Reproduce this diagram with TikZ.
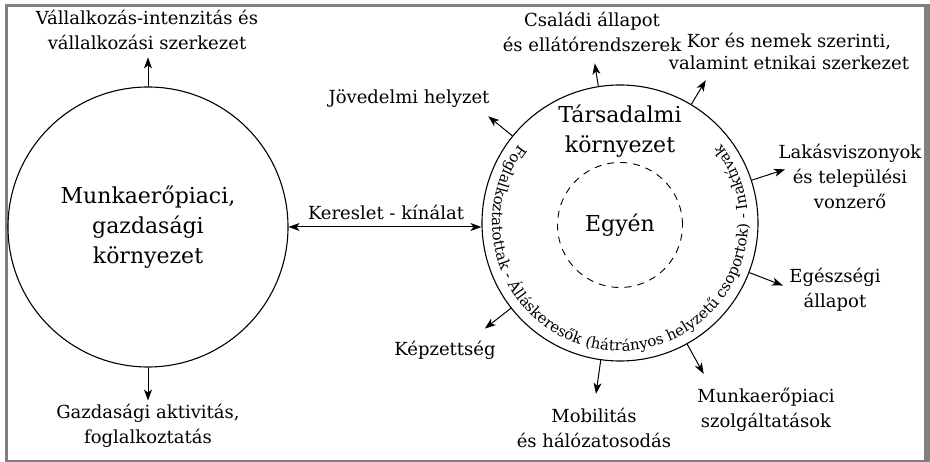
\documentclass[tikz,border=0pt]{standalone}
\usepackage{fontspec}
\setmainfont{DejaVu Serif}
\usetikzlibrary{arrows.meta,decorations.text}
\definecolor{framegray}{RGB}{128,128,128}

\begin{document}
\begin{tikzpicture}[x=1pt, y=1pt,
  every node/.style = {align=center, inner sep=0pt},
  lbl/.style = {font=\fontsize{18}{25}\selectfont},
  big/.style = {font=\fontsize{22}{30}\selectfont},
  ring/.style = {draw, circle, line width=1.1pt},
  arr/.style = {line width=1pt, -{Stealth[length=11pt,width=8pt,inset=3pt]}},
  dbl/.style = {line width=1pt, {Stealth[length=11pt,width=8pt,inset=3pt]}-{Stealth[length=11pt,width=8pt,inset=3pt]}}]
  \useasboundingbox (0,0) rectangle (930,462);
  \fill[framegray] (5,0) rectangle (930,458);
  \fill[white] (8,2) rectangle (924,455);

  % the two environments
  \node[ring, minimum size=280pt, big] (piac) at (148,235) {Munkaerőpiaci,\\ gazdasági\\ környezet};
  \node[ring, minimum size=276pt] (tars) at (620,239) {};
  \node[big] (tarsnev) at (620,331) {Társadalmi\\ környezet};
  \node[draw, circle, line width=0.9pt, dash pattern=on 7pt off 6pt, minimum size=125pt, big] (egyen) at (620,237) {Egyén};
  \path[decorate, decoration={text along path, text align=center,
    text={|\fontsize{15}{15}\selectfont|Foglalkoztatottak - Álláskeresők (hátrányos helyzetű csoportok) - Inaktívak}}]
    (tars.center) ++(130:128) arc[start angle=130, end angle=410, radius=128];

  % labels
  \node[lbl] (vall) at (147,432) {Vállalkozás-intenzitás és\\ vállalkozási szerkezet};
  \node[lbl] (gazd) at (148,36) {Gazdasági aktivitás,\\ foglalkoztatás};
  \node[lbl] (kinal) at (386,250) {Kereslet - kínálat};
  \node[lbl] (csal) at (592,430) {Családi állapot\\ és ellátórendszerek};
  \node[lbl, font=\fontsize{18}{22}\selectfont] (kor) at (789,411) {Kor és nemek szerinti,\\ valamint etnikai szerkezet};
  \node[lbl] (jov) at (409,363) {Jövedelmi helyzet};
  \node[lbl] (lakas) at (850,286) {Lakásviszonyok\\ és települési\\ vonzerő};
  \node[lbl] (egesz) at (835,172) {Egészségi\\ állapot};
  \node[lbl] (szolg) at (766,52) {Munkaerőpiaci\\ szolgáltatások};
  \node[lbl] (mobil) at (594,34) {Mobilitás\\ és hálózatosodás};
  \node[lbl] (kepz) at (445,112) {Képzettség};

  % arrows
  \draw[arr] (piac.north) -- +(0,29);
  \draw[arr] (piac.south) -- +(0,-33);
  \draw[dbl] (piac.east) -- (piac.east -| tars.west);
  \foreach \a/\l in {99/23, 59/28, 141/31, 18/35, 339/36, 299/34, 262/34, 218/33}
    \draw[arr] (tars.\a) -- +(\a:\l);
\end{tikzpicture}
\end{document}
